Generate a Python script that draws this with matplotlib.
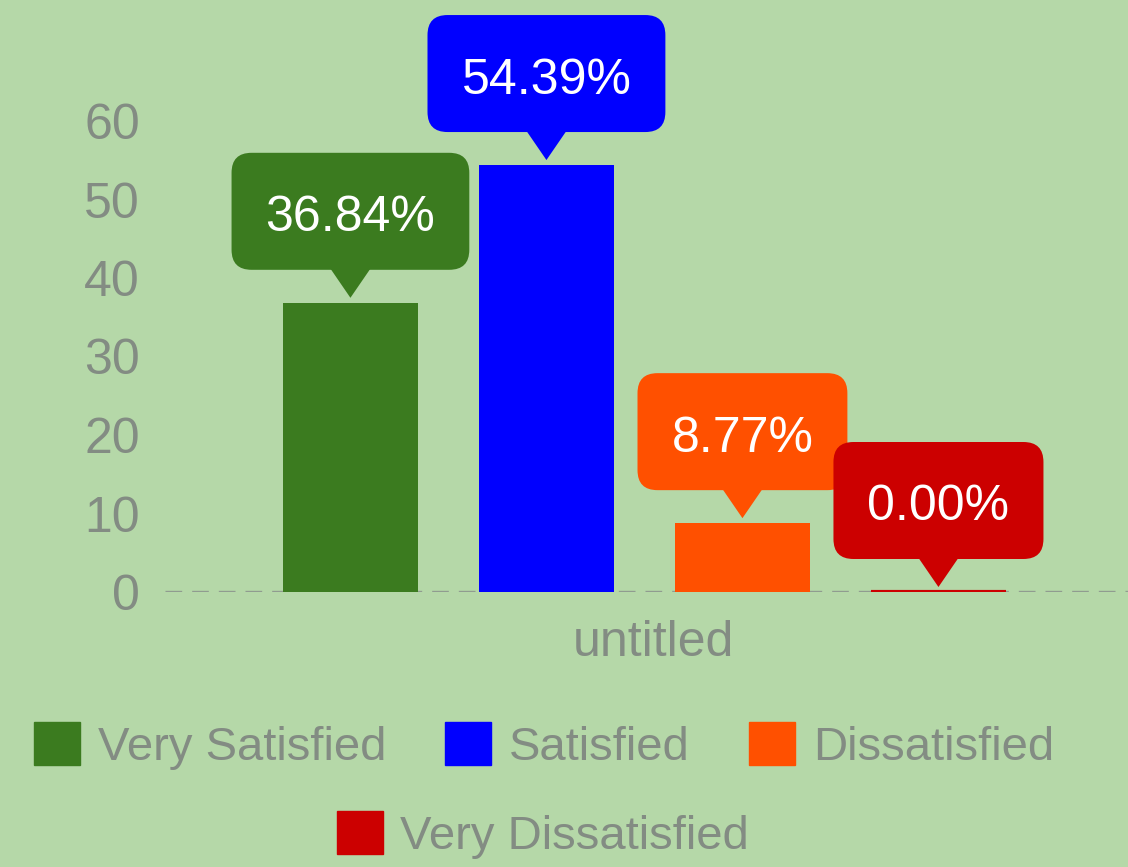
import matplotlib
matplotlib.use('Agg')
import matplotlib.pyplot as plt
from matplotlib.patches import FancyBboxPatch, Polygon, Patch
from matplotlib.transforms import ScaledTranslation

categories = ['Very Satisfied', 'Satisfied', 'Dissatisfied', 'Very Dissatisfied']
values = [36.84, 54.39, 8.77, 0.00]
labels = ['36.84%', '54.39%', '8.77%', '0.00%']
colors = ['#3b7b1f', '#0000ff', '#ff5000', '#cc0000']
yticks = [0, 10, 20, 30, 40, 50, 60]
xlabel = 'untitled'

BG = '#b5d8a8'
GRAY = '#838c83'
plt.rcParams['font.family'] = ['Liberation Sans', 'DejaVu Sans']

W, H = 1128, 867
fig = plt.figure(figsize=(W / 100, H / 100), dpi=100, facecolor=BG)
ax = fig.add_axes([165 / W, 1 - 592 / H, 1 - 165 / W, (592 - 121) / H])
ax.set_facecolor('none')

xs = list(range(len(values)))
lws = [0 if v > 0 else 3 for v in values]
ax.bar(xs, values, width=0.69, color=colors, edgecolor=colors, linewidth=lws, zorder=2)
ax.axhline(0, color='#909c90', lw=2.4, ls=(0, (5, 3)), zorder=1)

ax.set_xlim(-0.946, 3.967)
ax.set_ylim(0, 60)
ax.set_yticks(yticks)
ax.set_xticks([])
ax.tick_params(axis='y', length=0, pad=18, labelsize=36, labelcolor=GRAY)
for s in ax.spines.values():
    s.set_visible(False)

fig.text(653 / W, 1 - 643 / H, xlabel, ha='center', va='center', fontsize=36, color=GRAY)

# callouts
renderer = fig.canvas.get_renderer()
px = 1 / 100.0
for i, (v, lab, c) in enumerate(zip(values, labels, colors)):
    trans = fig.dpi_scale_trans + ScaledTranslation(i, v, ax.transData)
    bottom = 33 * px
    height = 117 * px
    t = fig.text(0, bottom + height / 2 - 7 * px, lab, transform=trans, ha='center', va='center',
                 fontsize=36, color='white', zorder=6)
    bb = t.get_window_extent(renderer=renderer)
    w = (bb.width + 68) * px
    box = FancyBboxPatch((-w / 2, bottom), w, height,
                         boxstyle='round,pad=0,rounding_size=0.2',
                         transform=trans, facecolor=c, edgecolor='none',
                         zorder=5, clip_on=False)
    fig.add_artist(box)
    tri = Polygon([(0, 5 * px), (-24 * px, 40 * px), (24 * px, 40 * px)], closed=True,
                  transform=trans, facecolor=c, edgecolor='none', zorder=5, clip_on=False)
    fig.add_artist(tri)

handles = [Patch(facecolor=c, edgecolor=c) for c in colors]
common = dict(loc='center', frameon=False, fontsize=34, handlelength=0.97,
              handleheight=1.0, handletextpad=0.38, columnspacing=1.25,
              labelcolor=GRAY, borderpad=0, borderaxespad=0)
fig.legend(handles[:3], categories[:3], ncol=3,
           bbox_to_anchor=(544 / W, 1 - 746 / H), **common)
fig.legend(handles[3:], categories[3:], ncol=1,
           bbox_to_anchor=(543 / W, 1 - 835 / H), **common)

fig.savefig('out.png', dpi=100, facecolor=BG)
